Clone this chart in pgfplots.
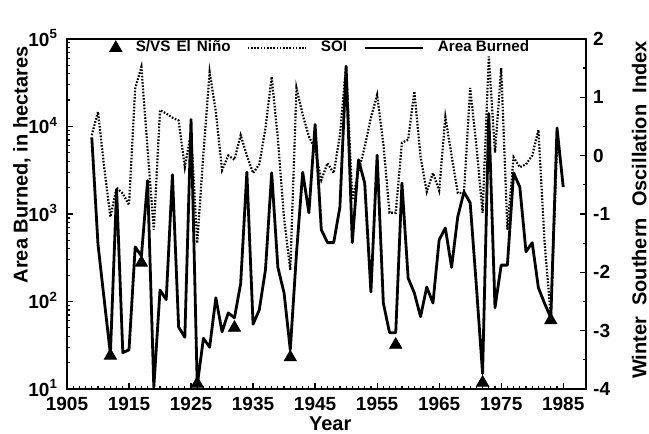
\documentclass[border=0pt]{standalone}
\usepackage{pgfplots}
\usepackage{pgfplotstable}
\pgfplotsset{compat=1.18}
\usepackage{fontspec}
\setmainfont{Liberation Sans}

\pgfplotsset{
  base/.style={
    scale only axis, width=259.5pt, height=175pt,
    xmin=1905, xmax=1988.7,
    axis line style={line width=1pt},
    every tick/.style={black, line width=0.6pt},
    major tick length=3pt, minor tick length=1.6pt,
    /pgf/number format/assume math mode=true,
    tick label style={font=\fontsize{9.5}{11}\selectfont\bfseries},
  },
  dotsoi/.style={black, line width=1.1pt, dash pattern=on 0.8pt off 0.8pt},
  longline/.style={legend image code/.code={\draw[##1] (0pt,0pt) -- (29pt,0pt);}},
}

% Area burned (hectares)
\pgfplotstableread{
year area
1909 7500
1910 450
1911 105
1912 25
1913 1900
1914 26
1915 28
1916 420
1917 330
1918 2400
1919 10.5
1920 135
1921 105
1922 2800
1923 51
1924 39
1925 12000
1926 11
1927 38
1928 30
1929 110
1930 45
1931 74
1932 65
1933 160
1934 3000
1935 55
1936 80
1937 230
1938 2950
1939 245
1940 125
1941 28
1942 355
1943 3000
1944 1030
1945 10500
1946 660
1947 470
1948 470
1949 1200
1950 48000
1951 470
1952 4150
1953 2250
1954 128
1955 4700
1956 96
1957 44
1958 44
1959 2250
1960 185
1961 125
1962 67
1963 146
1964 96
1965 505
1966 690
1967 245
1968 930
1969 1780
1970 1340
1971 150
1972 15
1973 14000
1974 85
1975 260
1976 260
1977 2950
1978 2030
1979 370
1980 470
1981 143
1982 95
1983 65
1984 9600
1985 2030
}\areatab

% winter SOI
\pgfplotstableread{
year soi
1909 0.35
1910 0.75
1911 -0.2
1912 -1.05
1913 -0.55
1914 -0.65
1915 -0.85
1916 1.15
1917 1.52
1918 0.1
1919 -1.27
1920 0.78
1921 0.72
1922 0.65
1923 0.6
1924 -0.2
1925 0.4
1926 -1.5
1927 0.05
1928 1.43
1929 0.75
1930 -0.25
1931 0.0
1932 -0.07
1933 0.35
1934 0.0
1935 -0.3
1936 -0.15
1937 0.47
1938 1.35
1939 0.29
1940 -1.08
1941 -1.96
1942 1.16
1943 0.7
1944 0.33
1945 0.1
1946 -0.42
1947 -0.13
1948 -0.3
1949 0.35
1950 1.55
1951 -0.76
1952 -0.27
1953 0.15
1954 0.65
1955 1.04
1956 0.2
1957 -0.98
1958 -0.98
1959 0.22
1960 0.27
1961 1.1
1962 -0.02
1963 -0.62
1964 -0.3
1965 -0.6
1966 0.66
1967 0.0
1968 -0.64
1969 -0.64
1970 1.16
1971 0.17
1972 -0.98
1973 1.7
1974 0.05
1975 1.5
1976 -1.27
1977 -0.03
1978 -0.2
1979 -0.15
1980 0.0
1981 0.44
1982 -1.5
1983 -2.76
1984 0.17
}\soitab

% strong / very strong El Nino years (marker height on left axis)
\pgfplotstableread{
year y
1912 24
1917 277
1926 11.5
1932 50
1941 23
1958 32
1972 11.8
1983 61
}\ninotab

\begin{document}
\begin{tikzpicture}
\begin{axis}[base,
  ymode=log, ymin=10, ymax=100000,
  xtick={1905,1915,...,1985}, minor x tick num=9,
  xticklabel style={/pgf/number format/1000 sep={}, yshift=-0.8pt},
  yticklabel style={xshift=-1pt, yshift=0.5pt},
  xtick pos=left, ytick pos=left,
  ytick={10,100,1000,10000,100000},
  yticklabels={10\textsuperscript{1},10\textsuperscript{2},10\textsuperscript{3},10\textsuperscript{4},10\textsuperscript{5}},
  xlabel={Year},
  ylabel={Area Burned, in hectares},
  every axis x label/.style={at={(rel axis cs:0.507,-0.098)}, anchor=center,
    font=\fontsize{10}{12}\selectfont\bfseries},
  every axis y label/.style={at={(rel axis cs:-0.087,0.64)}, rotate=90, anchor=center,
    font=\fontsize{10}{12}\selectfont\bfseries},
  clip=false,
  legend columns=3,
  legend style={draw=none, fill=none, font=\fontsize{7.6}{9}\selectfont\bfseries,
    at={(rel axis cs:0.07,0.974)}, anchor=west,
    /tikz/every odd column/.append style={column sep=5pt},
    /tikz/every even column/.append style={column sep=6pt},
    /tikz/column 2/.append style={column sep=8.5pt},
    /tikz/column 3/.append style={column sep=7pt},
    /tikz/column 4/.append style={column sep=1.5pt},
    /tikz/column 5/.append style={column sep=3pt}},
]
\addlegendimage{only marks, mark=triangle*, mark size=3.5pt, black}
\addlegendentry{S/VS\hspace{3pt}El\hspace{3pt}Niño}
\addlegendimage{dotsoi, longline}
\addlegendentry{SOI}
\addplot[black, line width=1.4pt, line join=round, longline]
  table[x=year, y=area] {\areatab};
\addlegendentry{Area Burned}
\addplot[only marks, mark=triangle*, mark size=3.5pt, black, forget plot]
  table[x=year, y=y] {\ninotab};
\coordinate (bl) at (rel axis cs:-0.129,-0.126);
\coordinate (tr) at (rel axis cs:1.121,1.111);
\end{axis}
\begin{axis}[base,
  ymin=-4, ymax=2,
  hide x axis,
  ytick={-4,-3,-2,-1,0,1,2},
  yticklabels={-4,-3,-2,-1,0,1,2},
  minor y tick num=1,
  ytick pos=right,
  ylabel={Winter\ \ Southern\ \ Oscillation\ \ Index},
  every axis y label/.style={at={(rel axis cs:1.102,0.511)}, rotate=90, anchor=center,
    font=\fontsize{10}{12}\selectfont\bfseries},
]
\addplot[dotsoi] table[x=year, y=soi] {\soitab};
\end{axis}
\pgfresetboundingbox
\path[use as bounding box] (bl) rectangle (tr);
\end{tikzpicture}
\end{document}
